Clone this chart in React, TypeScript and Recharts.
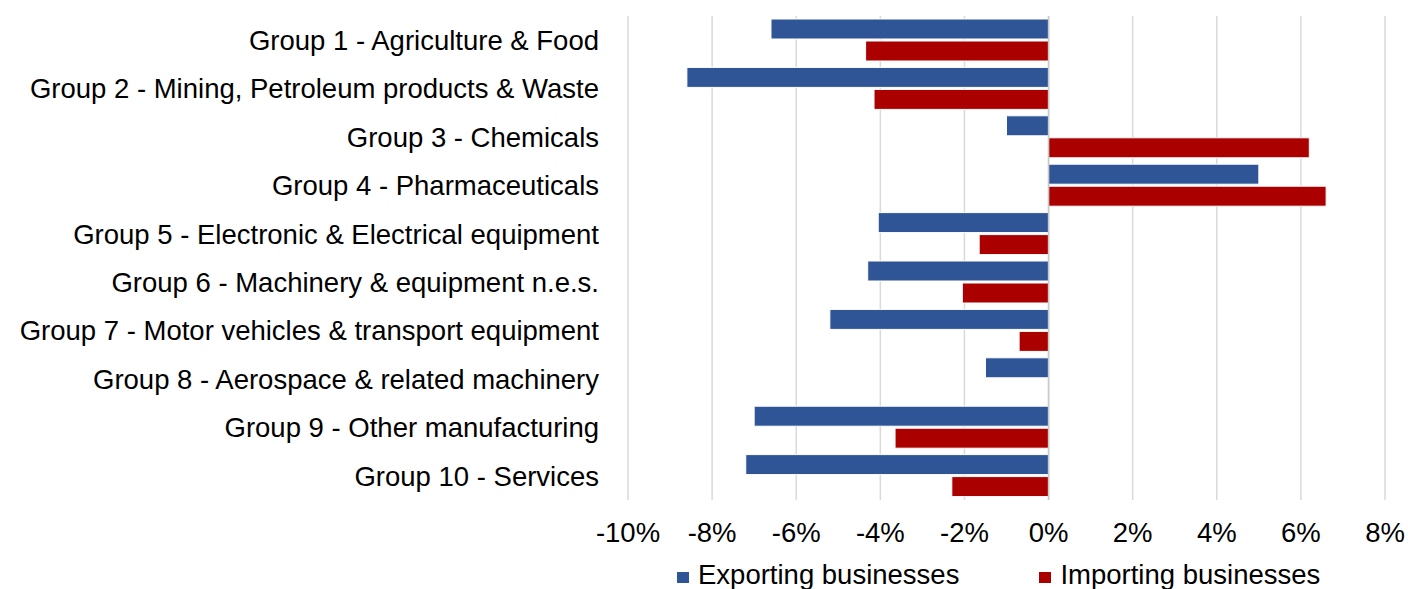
import { BarChart, Bar, XAxis, YAxis, CartesianGrid, ReferenceLine } from 'recharts'

const groups = [
  'Group 1 - Agriculture & Food',
  'Group 2 - Mining, Petroleum products & Waste',
  'Group 3 - Chemicals',
  'Group 4 - Pharmaceuticals',
  'Group 5 - Electronic & Electrical equipment',
  'Group 6 - Machinery & equipment n.e.s.',
  'Group 7 - Motor vehicles & transport equipment',
  'Group 8 - Aerospace & related machinery',
  'Group 9 - Other manufacturing',
  'Group 10 - Services',
]
const exporting = [-6.6, -8.6, -1.0, 5.0, -4.05, -4.3, -5.2, -1.5, -7.0, -7.2]
const importing = [-4.35, -4.15, 6.2, 6.6, -1.65, -2.05, -0.7, 0, -3.65, -2.3]
const xTicks = [-10, -8, -6, -4, -2, 0, 2, 4, 6, 8]

const series = [
  { key: 'exporting', name: 'Exporting businesses', color: '#2F5597' },
  { key: 'importing', name: 'Importing businesses', color: '#AB0000' },
]

const data = groups.map((g, i) => ({ group: g, exporting: exporting[i], importing: importing[i] }))

const font = '"Liberation Sans", Arial, sans-serif'

export default function App() {
  return (
    <div style={{ position: 'absolute', left: 0, top: 0, width: 1408, height: 589, background: '#fff', fontFamily: font, overflow: 'hidden' }}>
      <BarChart
        layout="vertical"
        width={1408}
        height={589}
        data={data}
        margin={{ top: 16, right: 23, bottom: 49, left: 0 }}
        barSize={20}
        barGap={2}
        barCategoryGap={7}
      >
        <CartesianGrid horizontal={false} stroke="#d9d9d9" strokeWidth={1.5} />
        <XAxis
          type="number"
          domain={[-10, 8]}
          ticks={xTicks}
          tickFormatter={v => `${v}%`}
          axisLine={false}
          tickLine={false}
          tickMargin={16}
          height={40}
          tick={{ fill: '#000', fontSize: 27.5, fontFamily: font }}
        />
        <YAxis
          type="category"
          dataKey="group"
          width={628}
          axisLine={false}
          tickLine={false}
          tickMargin={23}
          interval={0}
          tick={{ fill: '#000', fontSize: 27.5, fontFamily: font }}
        />
        {series.map(s => (
          <Bar key={s.key} dataKey={s.key} name={s.name} fill={s.color} stroke="#ffffff" strokeWidth={1} isAnimationActive={false} />
        ))}
        <ReferenceLine x={0} stroke="#c8c8c8" strokeWidth={1.5} />
      </BarChart>
      <div style={{ position: 'absolute', left: 677, top: 561, display: 'flex', fontSize: 27.5, lineHeight: '27px', color: '#000' }}>
        {series.map((s, i) => (
          <div key={s.key} style={{ display: 'flex', alignItems: 'center', marginRight: i === 0 ? 80 : 0 }}>
            <span style={{ width: 12, height: 11, background: s.color, marginRight: 9, marginTop: 6 }} />
            <span style={{ whiteSpace: 'nowrap' }}>{s.name}</span>
          </div>
        ))}
      </div>
    </div>
  )
}
